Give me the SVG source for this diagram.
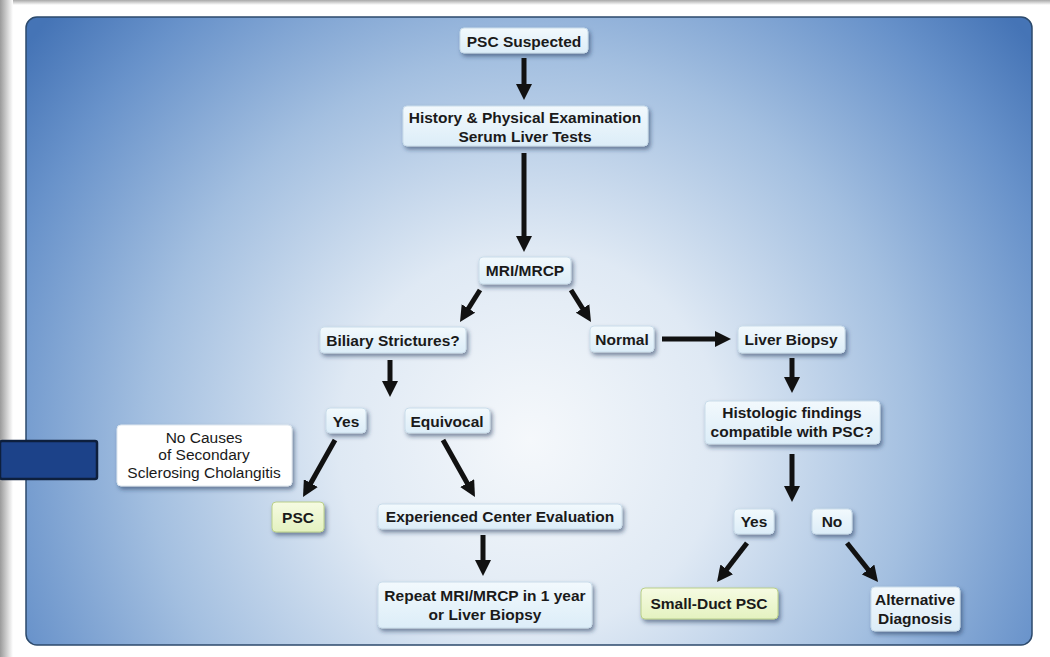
<svg xmlns="http://www.w3.org/2000/svg" width="1050" height="657" viewBox="0 0 1050 657">
<defs>
<linearGradient id="lshadow" x1="0" y1="0" x2="1" y2="0">
<stop offset="0" stop-color="#9a9a9a"/><stop offset="1" stop-color="#ffffff"/>
</linearGradient>
<linearGradient id="tshadow" x1="0" y1="0" x2="0" y2="1">
<stop offset="0" stop-color="#a8a8a8"/><stop offset="1" stop-color="#ffffff"/>
</linearGradient>
<radialGradient id="bg" gradientUnits="userSpaceOnUse" cx="530" cy="440" r="640">
<stop offset="0" stop-color="#f5f8fb"/>
<stop offset="0.3" stop-color="#dfe9f4"/>
<stop offset="0.6" stop-color="#a3bfe0"/>
<stop offset="0.85" stop-color="#6892ca"/>
<stop offset="1" stop-color="#4574b6"/>
</radialGradient>
<linearGradient id="nodefill" x1="0" y1="0" x2="0" y2="1">
<stop offset="0" stop-color="#f2f9fd"/><stop offset="1" stop-color="#dcedf8"/>
</linearGradient>
<linearGradient id="greenfill" x1="0" y1="0" x2="0" y2="1">
<stop offset="0" stop-color="#f6fbe2"/><stop offset="1" stop-color="#e4f2c0"/>
</linearGradient>
<filter id="sh" x="-20%" y="-30%" width="140%" height="170%">
<feDropShadow dx="2" dy="3" stdDeviation="2" flood-color="#1d3558" flood-opacity="0.55"/>
</filter>
<marker id="ah" viewBox="0 0 16 16" refX="6" refY="8" markerWidth="16" markerHeight="16" markerUnits="userSpaceOnUse" orient="auto">
<path d="M0,0 L16,8 L0,16 z" fill="#111"/>
</marker>
<style>
.n{fill:url(#nodefill);stroke:#c9dcea;stroke-width:1;filter:url(#sh)}
.g{fill:url(#greenfill);stroke:#b9cf8a;stroke-width:1;filter:url(#sh)}
.w{fill:#ffffff;stroke:#dde6ee;stroke-width:1;filter:url(#sh)}
.t{font-family:"Liberation Sans",Arial,sans-serif;font-weight:bold;font-size:15.5px;fill:#1a1a1a;text-anchor:middle}
.r{font-family:"Liberation Sans",Arial,sans-serif;font-size:15.5px;fill:#1a1a1a;text-anchor:middle}
.c line{stroke:#111;stroke-width:5;marker-end:url(#ah)}
</style>
</defs>
<rect width="1050" height="657" fill="#ffffff"/>
<rect x="0" y="0" width="1050" height="5" fill="url(#tshadow)"/>
<rect x="0" y="0" width="13" height="657" fill="url(#lshadow)"/>
<rect x="26" y="17" width="1006" height="628" rx="11" fill="url(#bg)" stroke="#2c4a6c" stroke-width="1.5"/>
<rect x="0" y="441" width="97" height="38" rx="2" fill="#1c4289" stroke="#0d1f3d" stroke-width="2.5"/>

<g id="n-psc-suspected"><rect class="n" x="460" y="28" width="128" height="25" rx="4"/><text class="t" x="524" y="46.5">PSC Suspected</text></g>
<g id="n-history"><rect class="n" x="403" y="106" width="245" height="40" rx="4"/><text class="t" x="525" y="122.5">History &amp; Physical Examination</text><text class="t" x="525" y="141.5">Serum Liver Tests</text></g>
<g id="n-mri"><rect class="n" x="479" y="257" width="92" height="27" rx="4"/><text class="t" x="525" y="275.5">MRI/MRCP</text></g>
<g id="n-biliary"><rect class="n" x="320" y="327" width="146" height="26" rx="4"/><text class="t" x="393" y="345.5">Biliary Strictures?</text></g>
<g id="n-normal"><rect class="n" x="590" y="326" width="64" height="26" rx="4"/><text class="t" x="622" y="344.5">Normal</text></g>
<g id="n-liver-biopsy"><rect class="n" x="738" y="326" width="107" height="27" rx="4"/><text class="t" x="791" y="344.5">Liver Biopsy</text></g>
<g id="n-yes-left"><rect class="n" x="326" y="408" width="40" height="25" rx="4"/><text class="t" x="346" y="426.5">Yes</text></g>
<g id="n-equivocal"><rect class="n" x="405" y="408" width="85" height="25" rx="4"/><text class="t" x="447" y="426.5">Equivocal</text></g>
<g id="n-no-causes"><rect class="w" x="117" y="425" width="175" height="61" rx="4"/><text class="r" x="204" y="442.5">No Causes</text><text class="r" x="204" y="460">of Secondary</text><text class="r" x="204" y="477.5">Sclerosing Cholangitis</text></g>
<g id="n-psc"><rect class="g" x="272" y="502" width="52" height="30" rx="4"/><text class="t" x="298" y="522.5">PSC</text></g>
<g id="n-experienced"><rect class="n" x="378" y="504" width="244" height="25" rx="4"/><text class="t" x="500" y="522">Experienced Center Evaluation</text></g>
<g id="n-repeat"><rect class="n" x="378" y="582" width="214" height="46" rx="4"/><text class="t" x="485" y="600.5">Repeat MRI/MRCP in 1 year</text><text class="t" x="485" y="619.5">or Liver Biopsy</text></g>
<g id="n-histologic"><rect class="n" x="705" y="401" width="175" height="43" rx="4"/><text class="t" x="792" y="417.5">Histologic findings</text><text class="t" x="792" y="436.5">compatible with PSC?</text></g>
<g id="n-yes-right"><rect class="n" x="734" y="509" width="40" height="25" rx="4"/><text class="t" x="754" y="526.5">Yes</text></g>
<g id="n-no"><rect class="n" x="812" y="509" width="40" height="25" rx="4"/><text class="t" x="832" y="526.5">No</text></g>
<g id="n-small-duct"><rect class="g" x="641" y="588" width="137" height="31" rx="4"/><text class="t" x="709" y="608.5">Small-Duct PSC</text></g>
<g id="n-alternative"><rect class="n" x="871" y="587" width="89" height="44" rx="4"/><text class="t" x="915" y="604.5">Alternative</text><text class="t" x="915" y="623.5">Diagnosis</text></g>

<g id="connectors" class="c">
<line x1="524" y1="58" x2="524" y2="90"/>
<line x1="524" y1="153" x2="524" y2="242"/>
<line x1="480" y1="290" x2="465.3" y2="313.5"/>
<line x1="571" y1="290" x2="585.7" y2="313.5"/>
<line x1="662" y1="339" x2="721" y2="339"/>
<line x1="390" y1="360" x2="390" y2="387"/>
<line x1="792" y1="358" x2="792" y2="383"/>
<line x1="335" y1="440" x2="307.9" y2="488.3"/>
<line x1="443" y1="440" x2="470.1" y2="488.3"/>
<line x1="483" y1="535" x2="483" y2="566"/>
<line x1="792" y1="454" x2="792" y2="492"/>
<line x1="747" y1="543" x2="723.1" y2="574.1"/>
<line x1="847" y1="543" x2="871.8" y2="574.2"/>
</g>
</svg>
